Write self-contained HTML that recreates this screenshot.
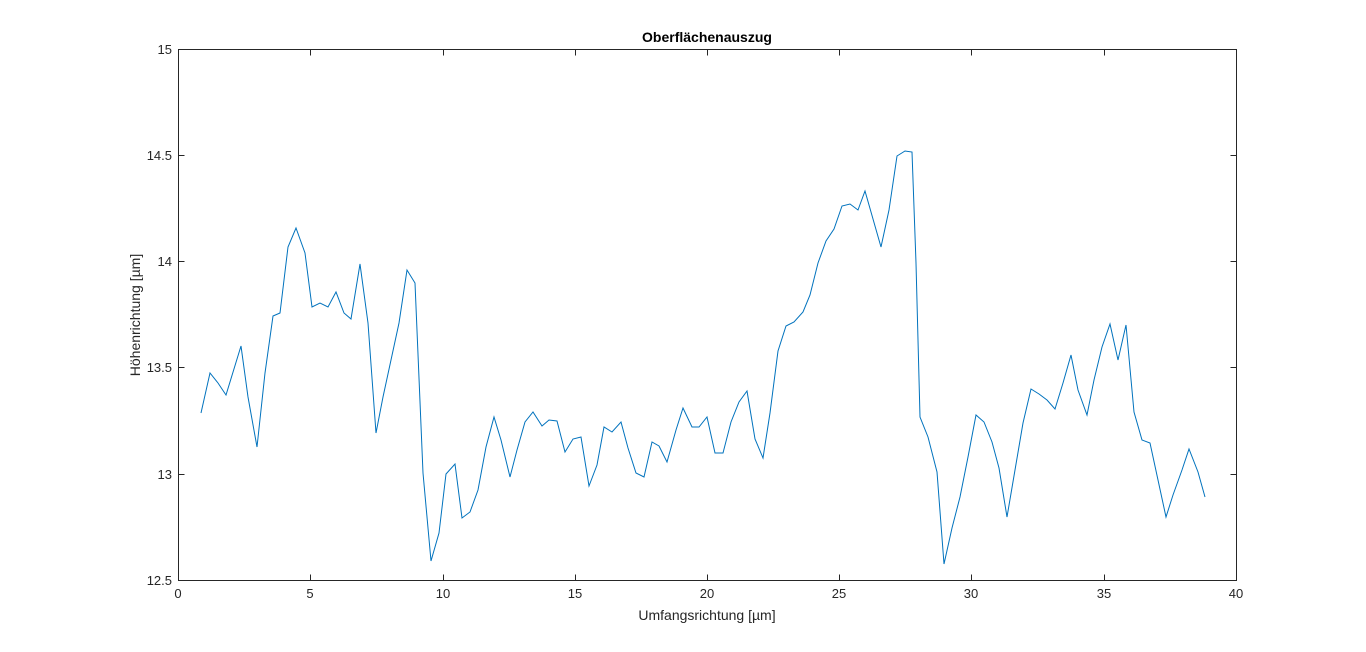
<!DOCTYPE html>
<html><head><meta charset="utf-8"><style>body{margin:0;background:#fff}svg{display:block}text{font-family:"Liberation Sans",sans-serif;fill:#262626}</style></head>
<body>
<svg width="1366" height="652" viewBox="0 0 1366 652">
<rect x="0" y="0" width="1366" height="652" fill="#fff"/>
<g stroke="#262626" stroke-width="1" fill="none">
<rect x="178.5" y="49.5" width="1058" height="531"/>
<path d="M178.5 155.5h6M178.5 261.5h6M178.5 367.5h6M178.5 474.5h6M1236.5 155.5h-6M1236.5 261.5h-6M1236.5 367.5h-6M1236.5 474.5h-6
M310.5 580.5v-6M443.5 580.5v-6M575.5 580.5v-6M707.5 580.5v-6M839.5 580.5v-6M971.5 580.5v-6M1104.5 580.5v-6
M310.5 49.5v6M443.5 49.5v6M575.5 49.5v6M707.5 49.5v6M839.5 49.5v6M971.5 49.5v6M1104.5 49.5v6"/>
</g>
<g font-size="13" text-anchor="middle">
<text x="178" y="598">0</text><text x="310" y="598">5</text><text x="443" y="598">10</text><text x="575" y="598">15</text><text x="707" y="598">20</text><text x="839" y="598">25</text><text x="971" y="598">30</text><text x="1104" y="598">35</text><text x="1236" y="598">40</text>
</g>
<g font-size="13" text-anchor="end">
<text x="172" y="54">15</text><text x="172" y="160">14.5</text><text x="172" y="266">14</text><text x="172" y="372">13.5</text><text x="172" y="479">13</text><text x="172" y="585">12.5</text>
</g>
<text x="707" y="620" font-size="14" text-anchor="middle">Umfangsrichtung [µm]</text>
<text x="0" y="0" font-size="14" text-anchor="middle" transform="translate(140 315) rotate(-90)">Höhenrichtung [µm]</text>
<text x="707" y="42" font-size="14" font-weight="bold" text-anchor="middle" style="fill:#000">Oberflächenauszug</text>
<polyline fill="none" stroke="#0072bd" stroke-width="1" points="201,413 210,373 218,383 226,395 241,346 248,397 257,447 265,373 273,316 280,313 288,247 296,228 305,253 312,307 320,303 328,307 336,292 344,313 351,319 360,264 368,323 376,433 383,397 391,360 399,323 407,270 415,283 423,473 431,561 439,533 446,474 455,464 462,518 470,512 478,490 486,447 494,417 501,440 510,477 517,450 525,422 533,412 542,426 549,420 557,421 565,452 573,439 581,437 589,486 597,465 604,427 612,432 621,422 628,448 636,473 644,477 652,442 659,446 667,462 676,430 683,408 692,427 699,427 707,417 715,453 723,453 731,422 739,402 747,391 755,439 763,458 770,413 778,351 786,326 794,322 803,312 810,295 818,263 826,241 834,229 842,206 850,204 858,210 865,191 873,219 881,247 889,210 897,156 905,151 912,152 916,263 920,417 928,437 937,472 944,564 952,528 960,497 968,457 976,415 984,422 992,442 999,468 1007,517 1015,470 1023,423 1031,389 1039,394 1047,400 1055,409 1063,383 1071,355 1078,390 1087,415 1094,380 1102,347 1110,324 1118,360 1126,325 1134,412 1142,440 1150,443 1158,480 1166,517 1173,495 1182,470 1189,449 1198,472 1205,497"/>
</svg>
</body></html>
